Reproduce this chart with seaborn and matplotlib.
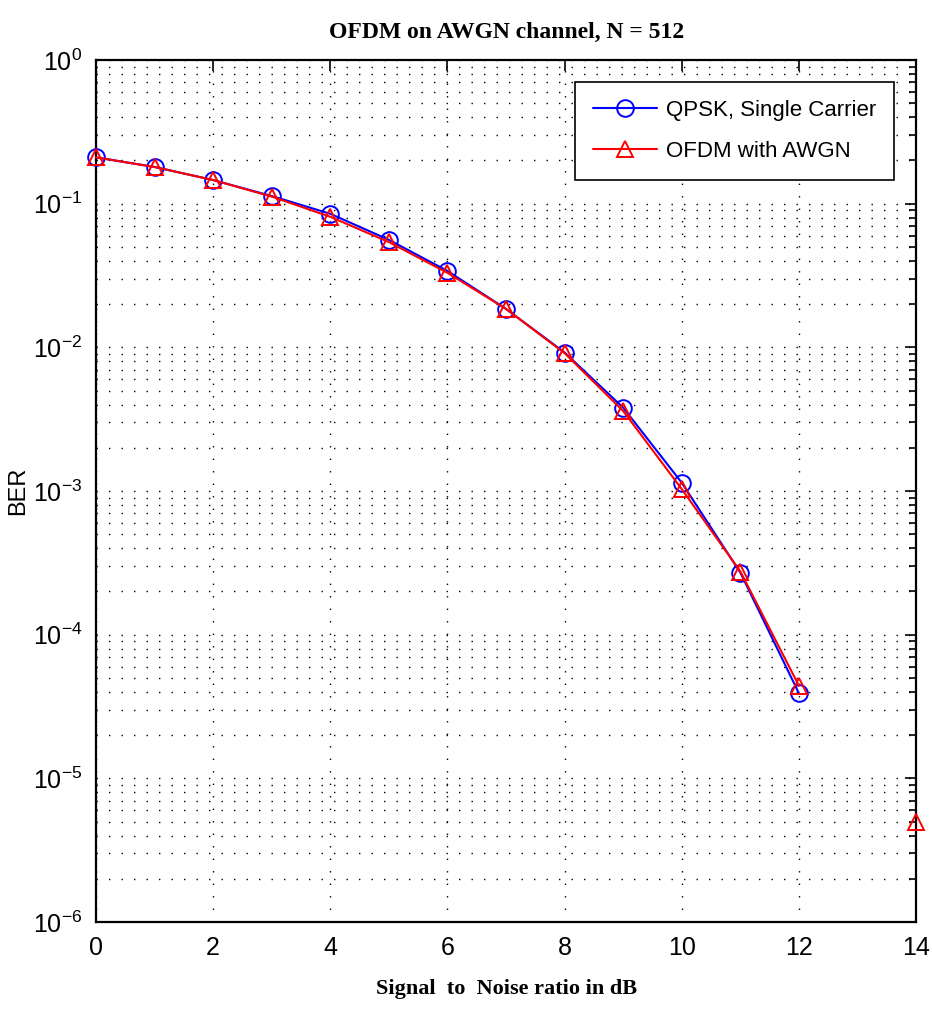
import numpy as np
import pandas as pd
import matplotlib
matplotlib.use("Agg")
import matplotlib.pyplot as plt
import matplotlib.ticker as mticker
import seaborn as sns

# ---- data ----
snr_db = [0, 1, 2, 3, 4, 5, 6, 7, 8, 9, 10, 11, 12]
qpsk_ber = [0.21, 0.18, 0.146, 0.113, 0.085, 0.056, 0.034, 0.0185, 0.0092,
            0.0038, 0.00114, 0.00027, 3.9e-5]
ofdm_snr_db = [0, 1, 2, 3, 4, 5, 6, 7, 8, 9, 10, 11, 12, 13, 14]
ofdm_ber = [0.21, 0.18, 0.146, 0.112, 0.081, 0.054, 0.033, 0.0185, 0.0091,
            0.0036, 0.00103, 0.000275, 4.4e-5, np.nan, 5.0e-6]
x_ticks = [0, 2, 4, 6, 8, 10, 12, 14]
y_ticks = [1e-6, 1e-5, 1e-4, 1e-3, 1e-2, 1e-1, 1e0]

title_text = "OFDM on AWGN channel, N = 512"
xlabel_text = "Signal  to  Noise ratio in dB"
ylabel_text = "BER"
qpsk_label = "QPSK, Single Carrier"
ofdm_label = "OFDM with AWGN"

sns.set_style("white")
plt.rcParams["font.family"] = ["Liberation Sans", "DejaVu Sans"]
plt.rcParams["mathtext.fontset"] = "custom"
plt.rcParams["mathtext.rm"] = "Liberation Sans"
plt.rcParams["text.color"] = "black"
plt.rcParams["axes.labelcolor"] = "black"
plt.rcParams["xtick.color"] = "black"
plt.rcParams["ytick.color"] = "black"

fig = plt.figure(figsize=(9.32, 10.10), dpi=100)
ax = fig.add_axes([0.103, 0.0871, 0.880, 0.8535])

qpsk_df = pd.DataFrame({"snr": snr_db, "ber": qpsk_ber})
sns.lineplot(data=qpsk_df, x="snr", y="ber", ax=ax, estimator=None,
             color="#0000ff", lw=1.5, marker="o", markersize=12,
             markerfacecolor="none", markeredgecolor="#0000ff",
             markeredgewidth=1.4, label=qpsk_label, clip_on=False, zorder=3)

# OFDM series: split into contiguous (non-missing) segments
ofdm_df = pd.DataFrame({"snr": ofdm_snr_db, "ber": ofdm_ber})
valid = ofdm_df["ber"].notna()
seg_id = (~valid).cumsum()
first = True
for _, seg in ofdm_df[valid].groupby(seg_id[valid]):
    sns.lineplot(data=seg, x="snr", y="ber", ax=ax, estimator=None,
                 color="#ff0000", lw=1.5, marker="^", markersize=12,
                 markerfacecolor="none", markeredgecolor="#ff0000",
                 markeredgewidth=1.4, label=ofdm_label if first else None,
                 clip_on=False, zorder=4)
    first = False

ax.set_yscale("log")
ax.set_xlim(0, 14)
ax.set_ylim(1e-6, 1)
ax.set_xticks(x_ticks)
ax.yaxis.set_major_locator(mticker.FixedLocator(y_ticks))
ax.yaxis.set_major_formatter(mticker.LogFormatterSciNotation())
ax.yaxis.set_minor_locator(mticker.LogLocator(base=10, subs=np.arange(2, 10), numticks=100))
ax.yaxis.set_minor_formatter(mticker.NullFormatter())

ax.grid(True, which="major", axis="both", color="black",
        linestyle=(0, (1, 8)), linewidth=1.0)
ax.grid(True, which="minor", axis="y", color="black",
        linestyle=(0, (1, 8)), linewidth=1.0)

ax.tick_params(which="both", direction="in", top=True, right=True,
               labelsize=18, width=1.2, color="black", labelcolor="black")
ax.tick_params(which="major", length=8, pad=10)
ax.tick_params(which="minor", length=5)
for s in ax.spines.values():
    s.set_linewidth(1.6)
    s.set_color("black")

ax.set_title(title_text, fontsize=17, fontweight="bold", color="black",
             family=["Liberation Serif", "DejaVu Serif"], pad=16)
ax.set_xlabel(xlabel_text, fontsize=16, fontweight="bold", color="black",
              family=["Liberation Serif", "DejaVu Serif"], labelpad=14)
ax.set_ylabel(ylabel_text, fontsize=17, color="black")
ax.yaxis.set_label_coords(-0.082, 0.5)

leg = ax.legend(loc="upper right", fontsize=16, frameon=True, fancybox=False,
                edgecolor="black", framealpha=1, handlelength=2.9,
                borderaxespad=1.0, borderpad=0.8, labelspacing=0.9,
                handletextpad=0.4)
leg.get_frame().set_linewidth(1.2)
for t in leg.get_texts():
    t.set_color("black")

fig.savefig("out.png", dpi=100)
